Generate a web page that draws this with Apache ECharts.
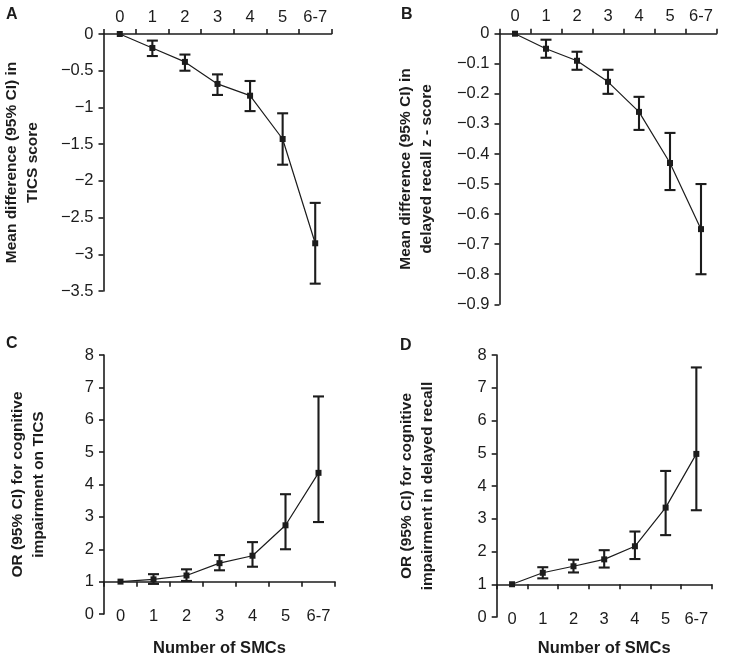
<!DOCTYPE html>
<html>
<head>
<meta charset="utf-8">
<script src="https://cdn.jsdelivr.net/npm/echarts@6/dist/echarts.min.js"></script>
<style>
html,body{margin:0;padding:0;background:#fff;}
#chart{width:750px;height:661px;}
</style>
</head>
<body>
<div id="chart"></div>
<script>
// ---- Data ----
const categories = ['0', '1', '2', '3', '4', '5', '6-7'];

// Panel A: mean difference in TICS score
const aMean = [0, -0.19, -0.38, -0.68, -0.84, -1.43, -2.85];
const aLow  = [0, -0.30, -0.50, -0.83, -1.05, -1.78, -3.40];
const aHigh = [0, -0.09, -0.28, -0.55, -0.64, -1.08, -2.30];

// Panel B: mean difference in delayed recall z-score
const bMean = [0, -0.05, -0.09, -0.16, -0.26, -0.43, -0.65];
const bLow  = [0, -0.08, -0.12, -0.20, -0.32, -0.52, -0.80];
const bHigh = [0, -0.02, -0.06, -0.12, -0.21, -0.33, -0.50];

// Panel C: OR for cognitive impairment on TICS
const cMean = [1, 1.07, 1.19, 1.57, 1.80, 2.74, 4.36];
const cLow  = [1, 0.93, 1.02, 1.35, 1.46, 2.00, 2.84];
const cHigh = [1, 1.23, 1.38, 1.82, 2.22, 3.70, 6.72];

// Panel D: OR for cognitive impairment in delayed recall
const dMean = [1, 1.35, 1.55, 1.76, 2.16, 3.34, 4.98];
const dLow  = [1, 1.18, 1.36, 1.51, 1.77, 2.50, 3.26];
const dHigh = [1, 1.52, 1.75, 2.04, 2.61, 4.46, 7.62];

// ---- Styles ----
const INK = '#1c1c1c';
const FONT = 'Liberation Sans, Arial, sans-serif';
const tickFont = 16.5;
const titleFont = 16.5;
const yTitleFont = 15.5;

function fmt(v) { return String(v).replace('-', '\u2212'); }

const chart = echarts.init(document.getElementById('chart'), null, {renderer: 'canvas'});

const grids = [
  {left: 103.5, top: 34, width: 228, height: 257},
  {left: 499.5, top: 33.7, width: 217, height: 270.6},
  {left: 104, top: 355, width: 231, height: 259},
  {left: 496.7, top: 355, width: 215, height: 262}
];

function axisLineStyle() { return {show: true, lineStyle: {color: INK, width: 1.6}}; }

function catLabel(margin, extra) {
  return Object.assign({color: INK, fontSize: tickFont, fontFamily: FONT, margin: margin, interval: 0, hideOverlap: false}, extra || {});
}

const xAxes = [
  // A top
  {gridIndex: 0, type: 'category', data: categories, position: 'top', boundaryGap: true,
   axisLine: axisLineStyle(), axisTick: {show: true, interval: 0, length: 5, lineStyle: {color: INK, width: 1.6}},
   axisLabel: catLabel(8)},
  // B top
  {gridIndex: 1, type: 'category', data: categories, position: 'top', boundaryGap: true,
   axisLine: axisLineStyle(), axisTick: {show: true, interval: 0, length: 5, lineStyle: {color: INK, width: 1.6}},
   axisLabel: catLabel(9)},
  // C line at OR = 1
  {gridIndex: 2, type: 'category', data: categories, position: 'bottom', boundaryGap: true,
   offset: -259 / 8,
   axisLine: axisLineStyle(), axisTick: {show: true, interval: 0, length: 5, lineStyle: {color: INK, width: 1.6}},
   axisLabel: {show: false}},
  // C labels
  {gridIndex: 2, type: 'category', data: categories, position: 'bottom', boundaryGap: true,
   axisLine: {show: false}, axisTick: {show: false},
   axisLabel: catLabel(2, {verticalAlign: 'middle'}),
   name: 'Number of SMCs', nameLocation: 'middle', nameGap: 26, nameMoveOverlap: false,
   nameTextStyle: {color: INK, fontSize: titleFont, fontWeight: 'bold', fontFamily: FONT}},
  // D line at OR = 1
  {gridIndex: 3, type: 'category', data: categories, position: 'bottom', boundaryGap: true,
   offset: -262 / 8,
   axisLine: axisLineStyle(), axisTick: {show: true, interval: 0, length: 5, lineStyle: {color: INK, width: 1.6}},
   axisLabel: {show: false}},
  // D labels
  {gridIndex: 3, type: 'category', data: categories, position: 'bottom', boundaryGap: true,
   axisLine: {show: false}, axisTick: {show: false},
   axisLabel: catLabel(2, {verticalAlign: 'middle'}),
   name: 'Number of SMCs', nameLocation: 'middle', nameGap: 23, nameMoveOverlap: false,
   nameTextStyle: {color: INK, fontSize: titleFont, fontWeight: 'bold', fontFamily: FONT}}
];

function yAxisDef(grid, min, max, interval, name, gap) {
  return {
    gridIndex: grid, type: 'value', min: min, max: max, interval: interval,
    axisLine: axisLineStyle(), axisTick: {show: true, length: 5, lineStyle: {color: INK, width: 1.6}},
    splitLine: {show: false},
    axisLabel: {color: INK, fontSize: tickFont, fontFamily: FONT, margin: 10, formatter: fmt, hideOverlap: false},
    name: name, nameLocation: 'middle', nameGap: gap, nameMoveOverlap: false,
    nameTextStyle: {color: INK, fontSize: yTitleFont, fontWeight: 'bold', fontFamily: FONT, lineHeight: 21, align: 'center'}
  };
}

const yAxes = [
  yAxisDef(0, -3.5, 0, 0.5, 'Mean difference (95% CI) in\nTICS score', 60),
  yAxisDef(1, -0.9, 0, 0.1, 'Mean difference (95% CI) in\ndelayed recall z - score', 62),
  yAxisDef(2, 0, 8, 1, 'OR (95% CI) for cognitive\nimpairment on TICS', 55),
  yAxisDef(3, 0, 8, 1, 'OR (95% CI) for cognitive\nimpairment in delayed recall', 58)
];

function errData(low, high) {
  return low.map((l, i) => [i, l, high[i]]);
}

function errSeries(xi, yi, low, high) {
  return {
    type: 'custom', xAxisIndex: xi, yAxisIndex: yi,
    data: errData(low, high), z: 2, silent: true,
    renderItem: function (params, api) {
      const i = api.value(0);
      const pl = api.coord([i, api.value(1)]);
      const ph = api.coord([i, api.value(2)]);
      if (Math.abs(pl[1] - ph[1]) < 1) return null;
      const w = 5.5;
      const st = {stroke: INK, lineWidth: 2.1, fill: null};
      return {
        type: 'group',
        children: [
          {type: 'line', shape: {x1: pl[0], y1: pl[1], x2: ph[0], y2: ph[1]}, style: st},
          {type: 'line', shape: {x1: pl[0] - w, y1: pl[1], x2: pl[0] + w, y2: pl[1]}, style: st},
          {type: 'line', shape: {x1: ph[0] - w, y1: ph[1], x2: ph[0] + w, y2: ph[1]}, style: st}
        ]
      };
    }
  };
}

function lineSeries(xi, yi, data) {
  return {
    type: 'line', xAxisIndex: xi, yAxisIndex: yi, data: data, z: 3,
    symbol: 'rect', symbolSize: 6, showSymbol: true,
    itemStyle: {color: INK},
    lineStyle: {color: INK, width: 1.2},
    animation: false
  };
}

const option = {
  animation: false,
  backgroundColor: '#fff',
  textStyle: {fontFamily: FONT},
  grid: grids,
  xAxis: xAxes,
  yAxis: yAxes,
  graphic: [
    {type: 'text', left: 6, top: 7, style: {text: 'A', font: 'bold 16px Liberation Sans, Arial', fill: INK}},
    {type: 'text', left: 401, top: 7, style: {text: 'B', font: 'bold 16px Liberation Sans, Arial', fill: INK}},
    {type: 'text', left: 6, top: 336, style: {text: 'C', font: 'bold 16px Liberation Sans, Arial', fill: INK}},
    {type: 'text', left: 400, top: 338, style: {text: 'D', font: 'bold 16px Liberation Sans, Arial', fill: INK}}
  ],
  series: [
    errSeries(0, 0, aLow, aHigh), lineSeries(0, 0, aMean),
    errSeries(1, 1, bLow, bHigh), lineSeries(1, 1, bMean),
    errSeries(2, 2, cLow, cHigh), lineSeries(2, 2, cMean),
    errSeries(4, 3, dLow, dHigh), lineSeries(4, 3, dMean)
  ]
};

chart.setOption(option);
</script>
</body>
</html>
